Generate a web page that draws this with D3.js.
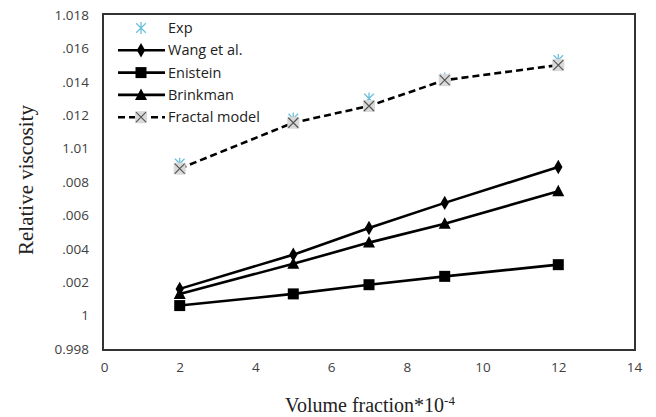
<!DOCTYPE html>
<html>
<head>
<meta charset="utf-8">
<script src="https://cdn.jsdelivr.net/npm/d3@7"></script>
<style>
  html, body { margin: 0; padding: 0; background: #fff; }
  svg { display: block; }
</style>
</head>
<body>
<svg id="chart" width="656" height="417"></svg>
<script>
// Volume fraction (x 10^-4)
const volumeFraction = [2, 5, 7, 9, 12];

// Relative viscosity per model
const expValues      = [1.0091, 1.0118, 1.0130, 1.0142, 1.0153];
const wangValues     = [1.0016, 1.00365, 1.00525, 1.00675, 1.0089];
const einsteinValues = [1.0006, 1.0013, 1.00185, 1.00235, 1.00305];
const brinkmanValues = [1.0013, 1.0031, 1.00437, 1.0055, 1.00745];
const fractalValues  = [1.0088, 1.01155, 1.01255, 1.0141, 1.0150];

const xTicks = [0, 2, 4, 6, 8, 10, 12, 14];
const yTicks = [0.998, 1, 1.002, 1.004, 1.006, 1.008, 1.01, 1.012, 1.014, 1.016, 1.018];
const yTickLabels = ["0.998", "1", ".002", ".004", ".006", ".008", "1.01", ".012", ".014", ".016", "1.018"];

const seriesNames = ["Exp", "Wang et al.", "Enistein", "Brinkman", "Fractal model"];

const svg = d3.select("#chart");
const plot = { left: 104, right: 634, top: 15, bottom: 349 };

const x = d3.scaleLinear().domain([0, 14]).range([plot.left, plot.right]);
const y = d3.scaleLinear().domain([0.998, 1.018]).range([plot.bottom, plot.top]);

const tickFont = "'Open Sans', 'Liberation Sans', sans-serif";
const titleFont = "'Liberation Serif', 'DejaVu Serif', serif";

// Axes (labels only, no tick marks)
const xAxis = d3.axisBottom(x).tickValues(xTicks).tickSize(0).tickPadding(13)
  .tickFormat(d3.format("d"));
svg.append("g").attr("transform", `translate(0,${plot.bottom})`).call(xAxis)
  .call(g => g.select(".domain").remove())
  .selectAll("text").attr("font-family", tickFont).attr("font-size", 13.5).attr("fill", "#404040");

const yAxis = d3.axisLeft(y).tickValues(yTicks).tickSize(0).tickPadding(15)
  .tickFormat((d, i) => yTickLabels[i]);
svg.append("g").attr("transform", `translate(${plot.left},0)`).call(yAxis)
  .call(g => g.select(".domain").remove())
  .selectAll("text").attr("font-family", tickFont).attr("font-size", 13.5).attr("fill", "#404040");

// Plot frame
svg.append("rect")
  .attr("x", plot.left - 1).attr("y", plot.top - 1)
  .attr("width", plot.right - plot.left + 2).attr("height", plot.bottom - plot.top + 2)
  .attr("fill", "none").attr("stroke", "#333").attr("stroke-width", 2);

// Axis titles
svg.append("text")
  .attr("x", 370).attr("y", 412).attr("text-anchor", "middle")
  .attr("font-family", titleFont).attr("font-size", 20)
  .attr("fill", "#222")
  .text("Volume fraction*10")
  .append("tspan").attr("dy", -7).attr("font-size", 13).text("-4");

svg.append("text")
  .attr("transform", `translate(33,180) rotate(-90)`).attr("text-anchor", "middle")
  .attr("font-family", titleFont).attr("font-size", 21)
  .attr("fill", "#222")
  .text("Relative viscosity");

// Marker drawers
function drawAsterisk(g, cx, cy) {
  const r = 6;
  const p = d3.path();
  p.moveTo(cx, cy - r); p.lineTo(cx, cy + r);
  p.moveTo(cx - r * 0.8, cy - r * 0.8); p.lineTo(cx + r * 0.8, cy + r * 0.8);
  p.moveTo(cx + r * 0.8, cy - r * 0.8); p.lineTo(cx - r * 0.8, cy + r * 0.8);
  g.append("path").attr("d", p.toString()).attr("stroke", "#6cc0dc").attr("stroke-width", 1.3).attr("fill", "none");
}
function drawDiamond(g, cx, cy) {
  g.append("path").attr("d", d3.symbol(d3.symbolDiamond, 60)()).attr("transform", `translate(${cx},${cy})`).attr("fill", "#000");
}
function drawSquare(g, cx, cy) {
  g.append("rect").attr("x", cx - 5.5).attr("y", cy - 5.5).attr("width", 11).attr("height", 11).attr("fill", "#000");
}
function drawTriangle(g, cx, cy) {
  g.append("path").attr("d", `M${cx},${cy - 6.5}L${cx + 6},${cy + 5}L${cx - 6},${cy + 5}Z`).attr("fill", "#000");
}
function drawFractal(g, cx, cy) {
  g.append("rect").attr("x", cx - 6).attr("y", cy - 6).attr("width", 12).attr("height", 12).attr("fill", "#d9d9d9");
  const p = d3.path();
  p.moveTo(cx - 5, cy - 5); p.lineTo(cx + 5, cy + 5);
  p.moveTo(cx + 5, cy - 5); p.lineTo(cx - 5, cy + 5);
  g.append("path").attr("d", p.toString()).attr("stroke", "#555").attr("stroke-width", 1.2);
}

const series = [
  { name: seriesNames[0], values: expValues, line: false, marker: drawAsterisk },
  { name: seriesNames[1], values: wangValues, line: true, dash: null, marker: drawDiamond },
  { name: seriesNames[2], values: einsteinValues, line: true, dash: null, marker: drawSquare },
  { name: seriesNames[3], values: brinkmanValues, line: true, dash: null, marker: drawTriangle },
  { name: seriesNames[4], values: fractalValues, line: true, dash: "7,4", marker: drawFractal }
];

const lineGen = d3.line().x(d => x(d[0])).y(d => y(d[1]));

series.forEach(s => {
  const g = svg.append("g");
  const pts = volumeFraction.map((v, i) => [v, s.values[i]]);
  if (s.line) {
    g.append("path").attr("d", lineGen(pts)).attr("fill", "none")
      .attr("stroke", "#000").attr("stroke-width", 2.6)
      .attr("stroke-dasharray", s.dash);
  }
  pts.forEach(p => s.marker(g, x(p[0]), y(p[1])));
});

// Legend
const legend = svg.append("g");
const legendY0 = 28, legendStep = 22.3;
series.forEach((s, i) => {
  const ly = legendY0 + i * legendStep;
  if (s.line) {
    legend.append("line").attr("x1", 118).attr("x2", 165).attr("y1", ly).attr("y2", ly)
      .attr("stroke", "#000").attr("stroke-width", 2.6).attr("stroke-dasharray", s.dash);
  }
  s.marker(legend, 141, ly);
  legend.append("text").attr("x", 168).attr("y", ly + 5)
    .attr("font-family", tickFont).attr("font-size", 14.5).attr("fill", "#222")
    .text(s.name);
});
</script>
</body>
</html>
